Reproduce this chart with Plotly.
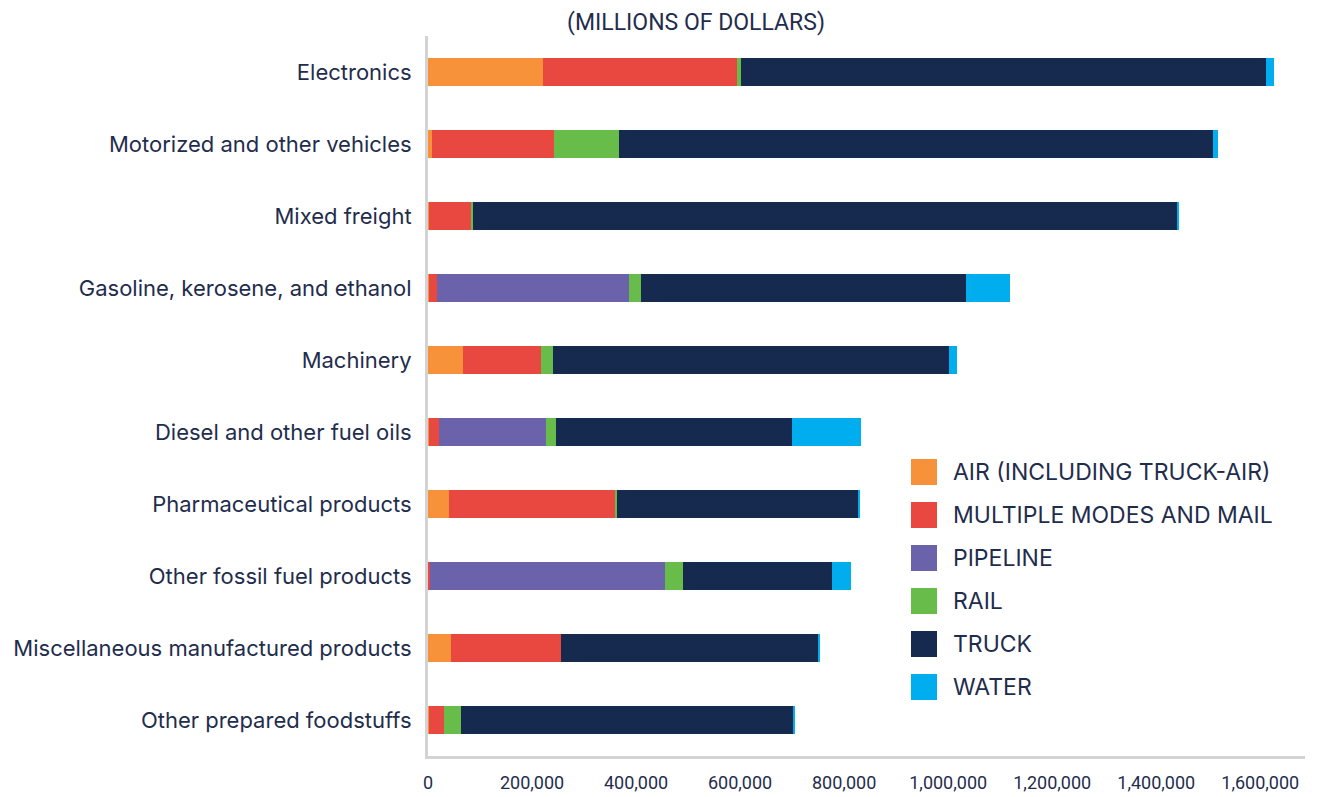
import plotly.graph_objects as go

# commodities, top to bottom
commodities = [
    "Electronics",
    "Motorized and other vehicles",
    "Mixed freight",
    "Gasoline, kerosene, and ethanol",
    "Machinery",
    "Diesel and other fuel oils",
    "Pharmaceutical products",
    "Other fossil fuel products",
    "Miscellaneous manufactured products",
    "Other prepared foodstuffs",
]

# value by mode (millions of dollars)
air = [222000, 7000, 2000, 1000, 67000, 1000, 40000, 1000, 44000, 2000]
multiple_modes = [372000, 235000, 80000, 16000, 150000, 21000, 319000, 2000, 212000, 28000]
pipeline = [0, 0, 0, 370000, 0, 205000, 0, 453000, 0, 0]
rail = [8500, 126000, 4000, 23000, 23000, 19000, 4000, 34000, 0, 33000]
truck = [1008000, 1141000, 1353000, 624000, 762000, 454000, 464000, 286000, 493000, 638000]
water = [15000, 10000, 5000, 85000, 15000, 132000, 4000, 38000, 4600, 4400]

mode_names = ["AIR (INCLUDING TRUCK-AIR)", "MULTIPLE MODES AND MAIL", "PIPELINE",
              "RAIL", "TRUCK", "WATER"]
mode_values = [air, multiple_modes, pipeline, rail, truck, water]
mode_colors = ["#F7923A", "#E8483F", "#6A63AC", "#67BC4A", "#16294F", "#00AEEF"]

tick_vals = [0, 200000, 400000, 600000, 800000, 1000000, 1200000, 1400000, 1600000]
tick_text = ["0", "200,000", "400,000", "600,000", "800,000", "1,000,000",
             "1,200,000", "1,400,000", "1,600,000"]

text_color = "#1F2D4D"
sans = "Inter, Roboto, sans-serif"

# the page puts the figure 8px in from the top-left corner
OFF = 8
W, H = 1321, 797
L, R, T, B = 428 - OFF, 24, 36 - OFF, 49

fig = go.Figure()
for name, vals, col in zip(mode_names, mode_values, mode_colors):
    fig.add_trace(go.Bar(
        y=commodities, x=vals, name=name, orientation="h",
        marker=dict(color=col, line=dict(width=0)),
        showlegend=False,
    ))

# hand-made legend with large squares (positions given in screen pixels)
def px_x(px):
    return (px - OFF - L) / (W - L - R)

def px_y(py):
    return (H - B - (py - OFF)) / (H - T - B)

shapes = []
annotations = []
for i, (name, col) in enumerate(zip(mode_names, mode_colors)):
    cy = 472 + i * 43
    shapes.append(dict(type="rect", xref="paper", yref="paper",
                       x0=px_x(911), x1=px_x(937), y0=px_y(cy + 13), y1=px_y(cy - 13),
                       fillcolor=col, line=dict(width=0)))
    annotations.append(dict(xref="paper", yref="paper", x=px_x(951), y=px_y(cy),
                            xanchor="left", yanchor="middle", showarrow=False,
                            text=name, font=dict(family=sans, size=23, color=text_color)))

fig.update_layout(
    width=W, height=H,
    barmode="stack", bargap=0.6,
    plot_bgcolor="white", paper_bgcolor="white",
    margin=dict(l=L, r=R, t=T, b=B, autoexpand=False),
    title=dict(text="(MILLIONS OF DOLLARS)", x=((696 - OFF) / W), xanchor="center",
               y=1 - (22 - OFF) / H, yanchor="middle",
               font=dict(family="Roboto, sans-serif", size=23, color=text_color)),
    shapes=shapes, annotations=annotations,
)
fig.update_xaxes(range=[0, 1686000], tickvals=tick_vals, ticktext=tick_text,
                 showgrid=False, zeroline=False, showline=True, linecolor="#D3D3D3",
                 linewidth=3, ticks="", ticklabelstandoff=8, automargin=False,
                 tickfont=dict(family="Roboto, sans-serif", size=18, color=text_color))
fig.update_yaxes(autorange="reversed", showgrid=False, showline=True,
                 linecolor="#D3D3D3", linewidth=3, ticks="", ticklabelstandoff=9,
                 automargin=False,
                 tickfont=dict(family=sans, size=22, color=text_color))

fig.write_html("out.html")
